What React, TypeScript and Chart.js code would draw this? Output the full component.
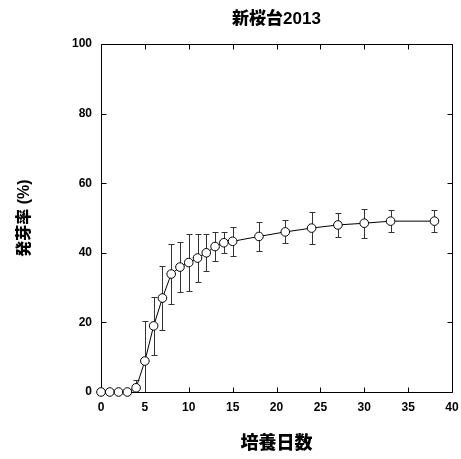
import React, { useEffect, useRef } from "react";
import { Chart, registerables } from "chart.js";

Chart.register(...registerables);

// ---- data ----
const days = [0, 1, 2, 3, 4, 5, 6, 7, 8, 9, 10, 11, 12, 13, 14, 15, 18, 21, 24, 27, 30, 33, 38];
const germination = [0, 0, 0, 0, 1.2, 8.9, 19.0, 27.0, 33.9, 35.9, 37.2, 38.5, 40.0, 41.8, 42.9, 43.3, 44.7, 46.0, 47.1, 48.0, 48.5, 49.1, 49.1];
const errors = [0, 0, 0, 0, 2.2, 11.4, 8.3, 9.3, 8.7, 7.1, 8.1, 7.0, 5.3, 4.2, 3.0, 4.2, 4.2, 3.3, 4.6, 3.4, 4.2, 3.2, 3.2];
const xRange = [0, 40];
const xStep = 5;
const yRange = [0, 100];
const yStep = 20;
const chartTitle = "新桜台2013";
const xTitle = "培養日数";
const yTitle = "発芽率 (%)";

const FONT = "'Liberation Sans', Arial, 'Noto Sans CJK JP', sans-serif";

const errorBarPlugin = {
  id: "errorBars",
  beforeDatasetsDraw(chart: any) {
    const { ctx, chartArea, scales } = chart;
    const x = scales.x;
    const y = scales.y;
    ctx.save();
    ctx.beginPath();
    ctx.rect(chartArea.left, chartArea.top, chartArea.right - chartArea.left, chartArea.bottom - chartArea.top);
    ctx.clip();
    ctx.strokeStyle = "#333";
    ctx.lineWidth = 1;
    days.forEach((d, i) => {
      const e = errors[i];
      if (!e) return;
      const px = Math.round(x.getPixelForValue(d)) + 0.5;
      const top = Math.round(y.getPixelForValue(germination[i] + e)) + 0.5;
      const bot = Math.round(y.getPixelForValue(germination[i] - e)) + 0.5;
      ctx.beginPath();
      ctx.moveTo(px, top);
      ctx.lineTo(px, bot);
      ctx.moveTo(px - 3, top);
      ctx.lineTo(px + 3, top);
      ctx.moveTo(px - 3, bot);
      ctx.lineTo(px + 3, bot);
      ctx.stroke();
    });
    ctx.restore();
  },
};

const framePlugin = {
  id: "frame",
  beforeDatasetsDraw(chart: any) {
    const { ctx, chartArea, scales } = chart;
    const { left, right, top, bottom } = chartArea;
    const L = Math.round(left) + 0.5;
    const R = Math.round(right) + 0.5;
    const T = Math.round(top) + 0.5;
    const B = Math.round(bottom) + 0.5;
    ctx.save();
    ctx.strokeStyle = "#000";
    ctx.lineWidth = 1;
    ctx.beginPath();
    ctx.moveTo(L, T);
    ctx.lineTo(R, T);
    ctx.lineTo(R, B);
    ctx.lineTo(L, B);
    ctx.closePath();
    ctx.stroke();
    const tl = 5;
    ctx.beginPath();
    scales.x.ticks.forEach((t: any) => {
      const px = Math.round(scales.x.getPixelForValue(t.value)) + 0.5;
      ctx.moveTo(px, B);
      ctx.lineTo(px, B - tl);
      ctx.moveTo(px, T);
      ctx.lineTo(px, T + tl);
    });
    scales.y.ticks.forEach((t: any) => {
      const py = Math.round(scales.y.getPixelForValue(t.value)) + 0.5;
      ctx.moveTo(L, py);
      ctx.lineTo(L + tl, py);
      ctx.moveTo(R, py);
      ctx.lineTo(R - tl, py);
    });
    ctx.stroke();
    ctx.restore();
  },
};

function clearPad(scale: any) {
  scale.paddingLeft = 0;
  scale.paddingRight = 0;
  scale.paddingTop = 0;
  scale.paddingBottom = 0;
}

export default function App() {
  const canvasRef = useRef<HTMLCanvasElement | null>(null);

  useEffect(() => {
    if (!canvasRef.current) return;
    Chart.defaults.color = "#000";
    const chart = new Chart(canvasRef.current, {
      type: "line",
      data: {
        datasets: [
          {
            data: days.map((d, i) => ({ x: d, y: germination[i] })),
            borderColor: "#000",
            borderWidth: 1,
            pointRadius: 4.3,
            pointBackgroundColor: "#fff",
            pointBorderColor: "#000",
            pointBorderWidth: 1,
            tension: 0,
            clip: false as any,
            xAxisID: "x",
            yAxisID: "y",
          },
        ],
      },
      options: {
        animation: false,
        responsive: true,
        maintainAspectRatio: false,
        layout: { padding: { left: 0, right: 9, top: 0, bottom: 0 } },
        plugins: {
          legend: { display: false },
          tooltip: { enabled: false },
          title: { display: false },
        },
        scales: {
          x: {
            type: "linear",
            position: "bottom",
            min: xRange[0],
            max: xRange[1],
            grid: { display: false, drawTicks: false },
            border: { display: false },
            ticks: {
              stepSize: xStep,
              padding: 8,
              font: { family: FONT, size: 12, weight: "bold" },
              color: "#000",
              maxRotation: 0,
            },
            title: {
              display: true,
              text: xTitle,
              font: { family: FONT, size: 18, weight: "900" },
              color: "#000",
              padding: { top: 0, bottom: 4 },
            },
            afterFit(scale: any) {
              scale.height = 67;
              clearPad(scale);
            },
          },
          x2: {
            type: "linear",
            position: "top",
            min: xRange[0],
            max: xRange[1],
            grid: { display: false, drawTicks: false },
            border: { display: false },
            ticks: { display: false },
            title: {
              display: true,
              text: chartTitle,
              font: { family: FONT, size: 17, weight: "900" },
              color: "#000",
              padding: { top: 9, bottom: 0 },
            },
            afterFit(scale: any) {
              scale.height = 44;
              clearPad(scale);
            },
          },
          y: {
            type: "linear",
            position: "left",
            min: yRange[0],
            max: yRange[1],
            grid: { display: false, drawTicks: false },
            border: { display: false },
            ticks: {
              stepSize: yStep,
              padding: 9,
              font: { family: FONT, size: 12, weight: "bold" },
              color: "#000",
            },
            title: {
              display: true,
              text: yTitle,
              font: { family: FONT, size: 16, weight: "900" },
              color: "#000",
              padding: { top: 15, bottom: 0 },
            },
            afterFit(scale: any) {
              scale.width = 101;
              clearPad(scale);
            },
          },
        },
      } as any,
      plugins: [framePlugin, errorBarPlugin],
    });
    return () => chart.destroy();
  }, []);

  return (
    <div style={{ position: "fixed", left: 0, top: 0, width: 461, height: 459 }}>
      <canvas ref={canvasRef} />
    </div>
  );
}
